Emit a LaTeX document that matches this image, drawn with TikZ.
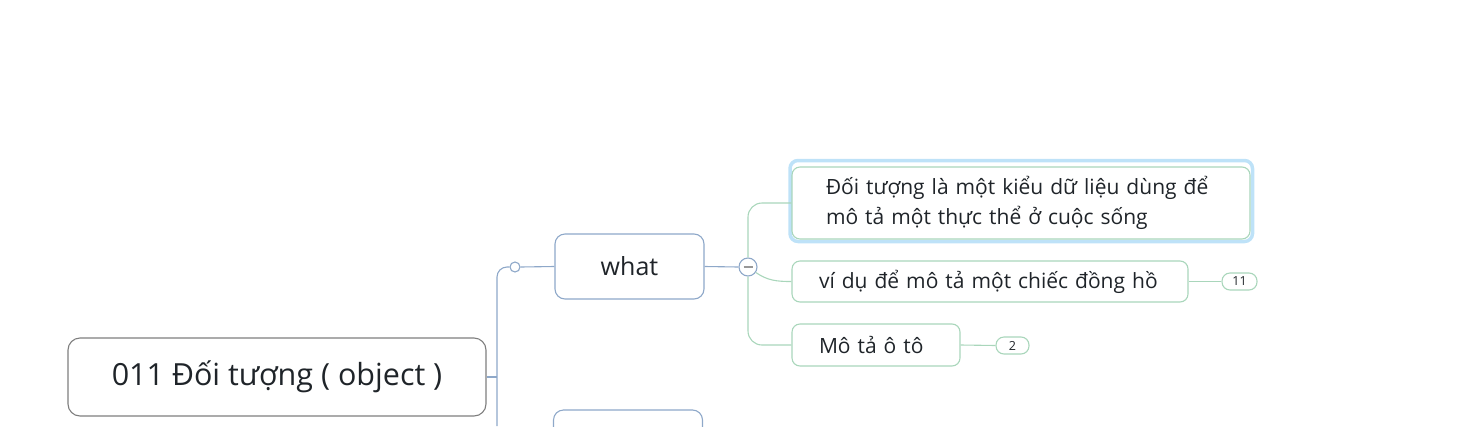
\documentclass[tikz,border=0pt]{standalone}
\usepackage{fontspec}
\setmainfont{Open Sans}
\usetikzlibrary{positioning}
\definecolor{rootline}{HTML}{7E7E7E}
\definecolor{blueline}{HTML}{8EA8C9}
\definecolor{greenline}{HTML}{A9D6BB}
\definecolor{selblue}{HTML}{BEE2F8}
\definecolor{ink}{HTML}{1F2429}

\begin{document}
\begin{tikzpicture}[x=1pt,y=-1pt,
  every node/.style={text=ink},
  rootbox/.style={draw=rootline,line width=1.1pt,rounded corners=12pt,minimum width=418pt,
    minimum height=78pt,font=\fontsize{30.5}{34}\selectfont},
  topicbox/.style={draw=blueline,line width=1.1pt,rounded corners=10pt,minimum width=149pt,
    minimum height=65pt,font=\fontsize{25}{28}\selectfont},
  leafbox/.style={draw=greenline,line width=1.1pt,rounded corners=8pt,inner ysep=0pt,
    align=left,font=\fontsize{21}{29.5}\selectfont},
  badge/.style={draw=greenline,line width=1.1pt,rounded corners=8pt,inner sep=0pt,
    minimum height=17pt,font=\fontsize{12.5}{14}\selectfont},
  trunk/.style={draw=blueline,line width=1.1pt},
  branch/.style={draw=greenline,line width=1.1pt}]
  \clip (0,0) rectangle (1483,426);
  % main topic and first subtopic
  \node (root) [rootbox] at (277,377) {011 Đối tượng ( object )};
  \node (what) [topicbox] at (629.5,266.5) {what};
  \node (nexttopic) [topicbox] at (628,442.5) {};
  \node (joint) [circle,draw=blueline,fill=white,line width=1.1pt,
    minimum size=10pt,inner sep=0pt] at (515,267) {};
  \node (fold) [circle,draw=blueline,fill=white,line width=1.1pt,
    minimum size=18pt,inner sep=0pt] at (748,267) {};
  \coordinate (trunkend) at (497,426);
  % leaves of what
  \draw[selblue,line width=3.5pt,rounded corners=8pt] (790,160.5) rectangle (1252.5,241.5);
  \node (def) [leafbox,inner xsep=34pt,text width=390pt,minimum height=72pt]
    at (1021,203) {\mbox{Đối tượng là một kiểu dữ liệu dùng để}\\\mbox{mô tả một thực thể ở cuộc sống}};
  \node (clock) [leafbox,inner xsep=27pt,text width=342pt,minimum height=41pt]
    at (990,281.5) {\mbox{ví dụ để mô tả một chiếc đồng hồ}};
  \node (car) [leafbox,inner xsep=27pt,text width=114pt,minimum height=42pt]
    at (876,345) {\mbox{Mô tả ô tô}};
  \node (clockn) [badge,minimum width=35pt] at (1239.5,281.5) {11};
  \node (carn) [badge,minimum width=33pt] at (1012.5,345.5) {2};
  % connectors
  \draw[trunk] (root.east) -- (root.east -| trunkend);
  \draw[trunk,rounded corners=10pt] (joint.west) -| (trunkend);
  \draw[trunk] (joint.east) -- (what.west);
  \draw[trunk] (what.east) -- (fold.west);
  \draw[rootline!80,line width=1.3pt] ([xshift=-4.5pt]fold.center) -- ([xshift=4.5pt]fold.center);
  \draw[branch,rounded corners=14pt] (fold.north) |- (def.west);
  \draw[branch,rounded corners=14pt] (fold.south) |- (car.west);
  \draw[branch] (fold.-35) to[out=-35,in=180] (clock.west);
  \draw[branch] (clock.east) -- (clockn.west);
  \draw[branch] (car.east) -- (carn.west);
\end{tikzpicture}
\end{document}
